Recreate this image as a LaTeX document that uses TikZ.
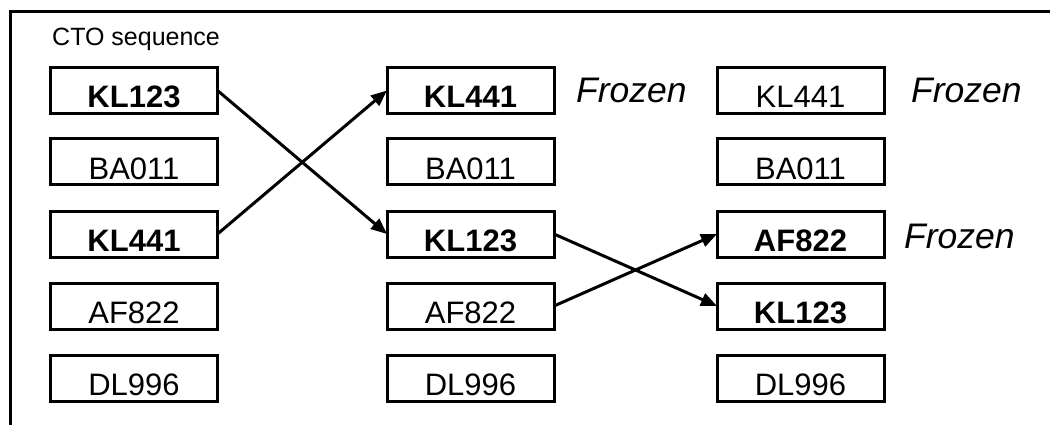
\documentclass[tikz,border=0pt]{standalone}
\usepackage{fontspec}
\setmainfont{Liberation Sans}
\usetikzlibrary{arrows.meta}
\tikzset{
  flight/.style={draw, line width=3pt, minimum width=167pt, minimum height=46pt,
    inner sep=0pt, outer sep=0pt, text height=35pt, text depth=0pt,
    font=\fontsize{31}{33}\selectfont},
  hot/.style={flight, font=\fontsize{31}{33}\selectfont\bfseries},
  frozen/.style={anchor=base west, inner sep=0pt, font=\fontsize{35.5}{38}\selectfont\itshape},
  move/.style={line width=3pt, -{Triangle[length=16pt,width=13pt]}},
  frame/.style={line width=3pt}
}
\begin{document}
\begin{tikzpicture}[x=1pt,y=-1pt]
\useasboundingbox (0,0) rectangle (1050,425);
\draw[frame] (10,426) -- (10,12) -- (1051,12);
\node[anchor=base west, inner sep=0pt, font=\fontsize{25}{27}\selectfont] (title) at (52,46) {CTO sequence};
% column 1
\node[hot]    (a1) at (134,90.5) {KL123};
\node[flight] (a2) at (134,161.5) {BA011};
\node[hot]    (a3) at (134,234) {KL441};
\node[flight] (a4) at (134,306) {AF822};
\node[flight] (a5) at (134,378) {DL996};
% column 2
\node[hot]    (b1) at (470.5,90.5) {KL441};
\node[flight] (b2) at (470.5,161.5) {BA011};
\node[hot]    (b3) at (470.5,234) {KL123};
\node[flight] (b4) at (470.5,306) {AF822};
\node[flight] (b5) at (470.5,378) {DL996};
% column 3
\node[flight] (c1) at (800.5,90.5) {KL441};
\node[flight] (c2) at (800.5,161.5) {BA011};
\node[hot]    (c3) at (800.5,234) {AF822};
\node[hot]    (c4) at (800.5,306) {KL123};
\node[flight] (c5) at (800.5,378) {DL996};
% frozen labels
\node[frozen] (f1) at (576,103) {Frozen};
\node[frozen] (f2) at (911,103) {Frozen};
\node[frozen] (f3) at (904,248) {Frozen};
% moves
\draw[move] (a1.east) -- (b3.west);
\draw[move] (a3.east) -- (b1.west);
\draw[move] (b3.east) -- (c4.west);
\draw[move] (b4.east) -- (c3.west);
\end{tikzpicture}
\end{document}
